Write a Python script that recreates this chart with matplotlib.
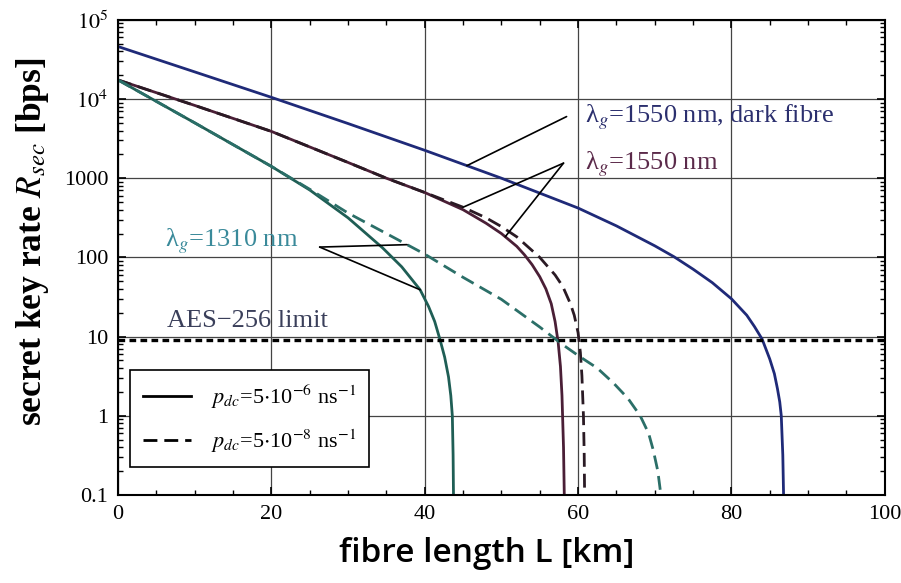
import numpy as np
import matplotlib
matplotlib.use("Agg")
import matplotlib.pyplot as plt
from matplotlib.ticker import FixedLocator, LogLocator, MultipleLocator, NullFormatter

plt.rcParams['font.family'] = ['Liberation Serif', 'DejaVu Serif']
plt.rcParams['mathtext.fontset'] = 'stix'

# values: fibre length [km] and secret key rate [bps]
L_dark = [0, 10, 20, 30, 40, 50, 60, 65, 70, 72.5, 75, 77.5, 80, 82, 83, 84, 85, 85.6, 86, 86.3, 86.5, 86.7, 86.8]
R_dark = [46000, 22000, 10500, 4900, 2250, 1000, 420, 250, 140, 102, 71, 48, 30, 18.6, 13.4, 9.3, 5.2, 3.4, 2.2, 1.5, 1.0, 0.32, 0.1]

L_1550 = [0, 10, 20, 30, 35, 40, 45, 48, 50, 52, 53, 54, 55, 55.8, 56.5, 57.0, 57.4, 57.7, 57.9, 58.1, 58.2]
R_1550 = [17400, 8300, 3900, 1580, 1000, 660, 400, 270, 200, 138, 108, 81, 57, 40, 26, 15.5, 8.5, 4.2, 1.8, 0.4, 0.1]

L_1550_lo = [0, 10, 20, 30, 35, 40, 45, 48, 50, 52, 55, 57, 58, 59, 59.5, 60, 60.3, 60.5, 60.7, 60.8, 60.85]
R_1550_lo = [17400, 8300, 3900, 1580, 1000, 660, 430, 316, 245, 182, 100, 60, 43, 26, 18.6, 11.2, 6.3, 3.2, 1.0, 0.32, 0.1]

L_1310 = [0, 10, 20, 25, 30, 34.5, 37, 39.4, 40.5, 41.3, 42, 42.6, 43.1, 43.4, 43.6, 43.7, 43.75]
R_1310 = [17400, 5000, 1410, 710, 316, 132, 76, 39, 24, 15.5, 9.1, 5.5, 3.1, 1.8, 1.0, 0.32, 0.1]

L_1310_lo = [0, 10, 20, 25, 30, 35, 40, 45, 50, 55, 58, 60.2, 62.5, 64.6, 66.5, 68.1, 69.2, 69.8, 70.4, 70.8]
R_1310_lo = [17400, 5000, 1410, 725, 363, 200, 110, 56, 29.5, 13.2, 7.9, 5.6, 4.0, 2.6, 1.66, 1.0, 0.6, 0.37, 0.2, 0.1]

aes_limit = 9

y_ticks = [0.1, 1, 10, 100, 1000, 1e4, 1e5]
y_labels = ['0.1', '1', '10', '100', '1000', '$10^4$', '$10^5$']
x_ticks = [0, 20, 40, 60, 80, 100]

c_blue = '#1f2a78'
c_red = '#4a1f36'
c_red_d = '#2a1a24'
c_green = '#1f5e55'
c_green_d = '#2b6f68'


def on_curve(L, R, x):
    # point on a drawn curve (log interpolation between read points)
    return x, 10 ** np.interp(x, L, np.log10(R))


fig = plt.figure(figsize=(9.01, 5.83), dpi=100)
ax = fig.add_axes([0.131, 0.151, 0.851, 0.815])

ax.plot(L_dark, R_dark, color=c_blue, lw=2)
ax.plot(L_1550, R_1550, color=c_red, lw=2)
ax.plot(L_1550_lo, R_1550_lo, color=c_red_d, lw=2, ls=(0, (5, 2.5)))
ax.plot(L_1310, R_1310, color=c_green, lw=2)
ax.plot(L_1310_lo, R_1310_lo, color=c_green_d, lw=2, ls=(0, (5, 2.5)))
ax.axhline(aes_limit, color='black', lw=2.4, ls=(0, (2, 1.3)))

ax.set_yscale('log')
ax.set_xlim(0, 100)
ax.set_ylim(0.1, 1e5)
ax.yaxis.set_major_locator(FixedLocator(y_ticks))
ax.set_yticklabels(y_labels)
ax.yaxis.set_minor_locator(LogLocator(base=10, subs=np.arange(2, 10)))
ax.yaxis.set_minor_formatter(NullFormatter())
ax.set_xticks(x_ticks)
ax.xaxis.set_minor_locator(MultipleLocator(5))
ax.grid(True, which='major', color='#444444', lw=0.9)
ax.tick_params(which='both', direction='in', top=True, right=True, labelsize=16, pad=7)
ax.tick_params(which='major', length=6, width=1.2)
ax.tick_params(which='minor', length=3.5, width=1)
for s in ax.spines.values():
    s.set_linewidth(1.5)

ax.set_xlabel('fibre length L [km]', fontfamily='Open Sans', fontweight='semibold', fontsize=24)
ax.xaxis.set_label_coords(0.481, -0.088)
ax.set_ylabel(r'secret key rate $\boldsymbol{R_{sec}}$ [bps]', fontsize=25.5, fontweight='bold')
ax.yaxis.set_label_coords(-0.087, 0.533)

# curve labels with pointer lines
ax.text(60.9, 5960, '\u03bb$_g$=1550 nm, dark fibre', color='#2b2f6e', fontsize=19, va='center')
ax.text(60.9, 1510, '\u03bb$_g$=1550 nm', color='#5b2a4a', fontsize=19, va='center')
ax.text(6.1, 159, '\u03bb$_g$=1310 nm', color='#3a8a9a', fontsize=19, va='center')
ax.text(6.4, 15.6, 'AES\u2212256 limit', color='#3a3f5a', fontsize=19, va='center')

ptr = dict(arrowstyle='-', color='black', lw=1.2, shrinkA=0, shrinkB=0)
ax.annotate('', xy=on_curve(L_dark, R_dark, 45.5), xytext=(58.5, 6000), arrowprops=ptr)
ax.annotate('', xy=on_curve(L_1550_lo, R_1550_lo, 45.0), xytext=(58.1, 1550), arrowprops=ptr)
ax.annotate('', xy=on_curve(L_1550, R_1550, 50.5), xytext=(58.1, 1550), arrowprops=ptr)
ax.annotate('', xy=on_curve(L_1310_lo, R_1310_lo, 37.7), xytext=(26.3, 135), arrowprops=ptr)
ax.annotate('', xy=on_curve(L_1310, R_1310, 39.4), xytext=(26.3, 135), arrowprops=ptr)

# legend
ax.plot([], [], color='black', lw=2, label=r'$p_{dc}$=5$\cdot$10$^{-6}$ ns$^{-1}$')
ax.plot([], [], color='black', lw=2, ls=(0, (5, 2.5)), label=r'$p_{dc}$=5$\cdot$10$^{-8}$ ns$^{-1}$')
leg = ax.legend(loc='lower left', bbox_to_anchor=(0.016, 0.059), borderaxespad=0, fontsize=16,
                frameon=True, fancybox=False, edgecolor='black', framealpha=1, handlelength=2.2,
                borderpad=0.55, labelspacing=0.75, handletextpad=0.9)
leg.get_frame().set_linewidth(1.2)

fig.savefig('out.png', dpi=100)
